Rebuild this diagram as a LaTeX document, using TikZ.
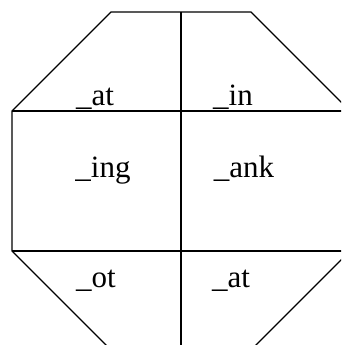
\documentclass[tikz,border=0pt]{standalone}
\usepackage{fontspec}
\setmainfont{Liberation Serif}
\begin{document}
\begin{tikzpicture}[x=1pt,y=1pt,
  edge/.style={line width=1.4pt, line join=miter},
  lbl/.style={anchor=base, inner sep=0pt, font=\fontsize{31}{36}\selectfont}]
\useasboundingbox (0,0) rectangle (341,345);
\clip (0,0) rectangle (341,345);
\coordinate (tl) at (111,333);
\coordinate (tr) at (251,333);
\coordinate (ml) at (12,234);
\coordinate (mr) at (350,234);
\coordinate (bl) at (12,94);
\coordinate (br) at (350,94);
\coordinate (dl) at (110,-4);
\coordinate (dr) at (252,-4);
\coordinate (vt) at (181,333);
\coordinate (vb) at (181,-4);
\draw[edge] (dl) -- (bl) -- (ml) -- (tl) -- (tr) -- (mr) -- (br) -- (dr);
\draw[edge] (ml) -- (mr);
\draw[edge] (bl) -- (br);
\draw[edge] (vt) -- (vb);
\node[lbl] (a1) at (95,239) {\_at};
\node[lbl] (a2) at (233,239) {\_in};
\node[lbl] (a3) at (103,167) {\_ing};
\node[lbl] (a4) at (244,167) {\_ank};
\node[lbl] (a5) at (96,57) {\_ot};
\node[lbl] (a6) at (231,57) {\_at};
\end{tikzpicture}
\end{document}
